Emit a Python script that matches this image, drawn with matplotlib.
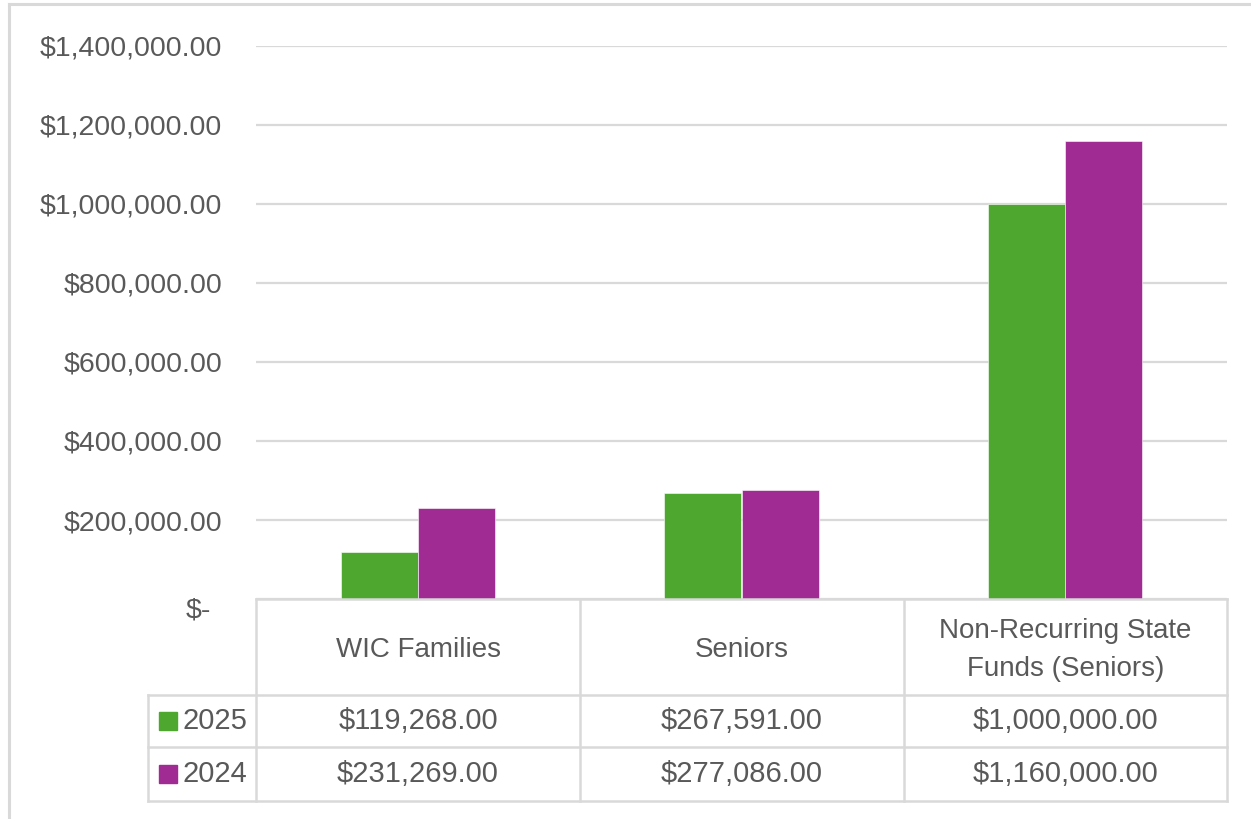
import matplotlib
matplotlib.use("Agg")
import matplotlib.pyplot as plt
from matplotlib.lines import Line2D
from matplotlib.patches import Rectangle
from matplotlib.transforms import offset_copy
import numpy as np

categories = ["WIC Families", "Seniors", "Non-Recurring State\nFunds (Seniors)"]
series_names = ["2025", "2024"]
values_2025 = [119268.00, 267591.00, 1000000.00]
values_2024 = [231269.00, 277086.00, 1160000.00]
yticks = [0, 200000, 400000, 600000, 800000, 1000000, 1200000, 1400000]

GREEN = "#4EA72E"
PURPLE = "#A02B93"
GRID = "#D9D9D9"
TXT = "#595959"
FONT = "Liberation Sans"

W, H = 1251, 819
fig = plt.figure(figsize=(W / 100, H / 100), dpi=100)

def fx(px):
    return px / W

def fy(py):
    return 1 - py / H

# plot area
left, right, top, bottom = 256, 1227, 46, 599
ax = fig.add_axes([fx(left), fy(bottom), fx(right - left), (bottom - top) / H])
x = np.arange(len(categories))
bw = 0.238
ax.bar(x - bw / 2, values_2025, bw, color=GREEN, edgecolor="white", linewidth=0.4, zorder=3)
ax.bar(x + bw / 2, values_2024, bw, color=PURPLE, edgecolor="white", linewidth=0.4, zorder=3)
ax.set_xlim(-0.5, len(categories) - 0.5)
ax.set_ylim(0, 1400000)
ax.set_yticks(yticks)

def fmt(v):
    return "$-" if v == 0 else "${:,.2f}".format(v)

ax.set_yticklabels([fmt(v) for v in yticks], fontsize=20.5, color=TXT, family=FONT)
ax.tick_params(axis="y", length=0, pad=24.5)
ax.set_xticks([])
ax.grid(axis="y", color=GRID, linewidth=1.6, zorder=0)
for s in ax.spines.values():
    s.set_visible(False)
# Excel-style "$-" zero label sits slightly left and lower
zl = ax.get_yticklabels()[0]
zl.set_transform(offset_copy(zl.get_transform(), fig=fig, x=-11, y=-8, units="dots"))

# outer chart border (left and top visible)
fig.add_artist(Line2D([fx(9), fx(9)], [fy(4), fy(819)], color=GRID, lw=2.2))
fig.add_artist(Line2D([fx(9), fx(1251)], [fy(4), fy(4)], color=GRID, lw=2.2))

# data table
bounds = [256, 580, 904, 1227]
row_y = [599, 695, 747, 801]
legend_left = 148

def hline(y, x0, x1):
    fig.add_artist(Line2D([fx(x0), fx(x1)], [fy(y), fy(y)], color=GRID, lw=1.8))

def vline(xp, y0, y1):
    fig.add_artist(Line2D([fx(xp), fx(xp)], [fy(y0), fy(y1)], color=GRID, lw=1.8))

hline(row_y[0], bounds[0], bounds[-1])
for yy in row_y[1:]:
    hline(yy, legend_left, bounds[-1])
for xb in bounds:
    vline(xb, row_y[0], row_y[-1])
vline(legend_left, row_y[1], row_y[-1])

TFONT = "Liberation Sans"
TCOL = "#595959"
for i, cat in enumerate(categories):
    cx = (bounds[i] + bounds[i + 1]) / 2
    fig.text(fx(cx), fy((row_y[0] + row_y[1]) / 2 + 3), cat, ha="center", va="center",
             fontsize=20, color=TCOL, family=TFONT, linespacing=1.65)

rows = [values_2025, values_2024]
colors = [GREEN, PURPLE]
for r, (name, vals, col) in enumerate(zip(series_names, rows, colors)):
    cy = (row_y[r + 1] + row_y[r + 2]) / 2
    fig.add_artist(Rectangle((fx(159), fy(cy + 8.5)), fx(18), 18 / H, color=col))
    fig.text(fx(183), fy(cy), name, ha="left", va="center", fontsize=21, color=TCOL, family=TFONT)
    for i, v in enumerate(vals):
        cx = (bounds[i] + bounds[i + 1]) / 2
        fig.text(fx(cx), fy(cy), fmt(v), ha="center", va="center", fontsize=21, color=TCOL, family=TFONT)

fig.savefig("out.png", dpi=100)
